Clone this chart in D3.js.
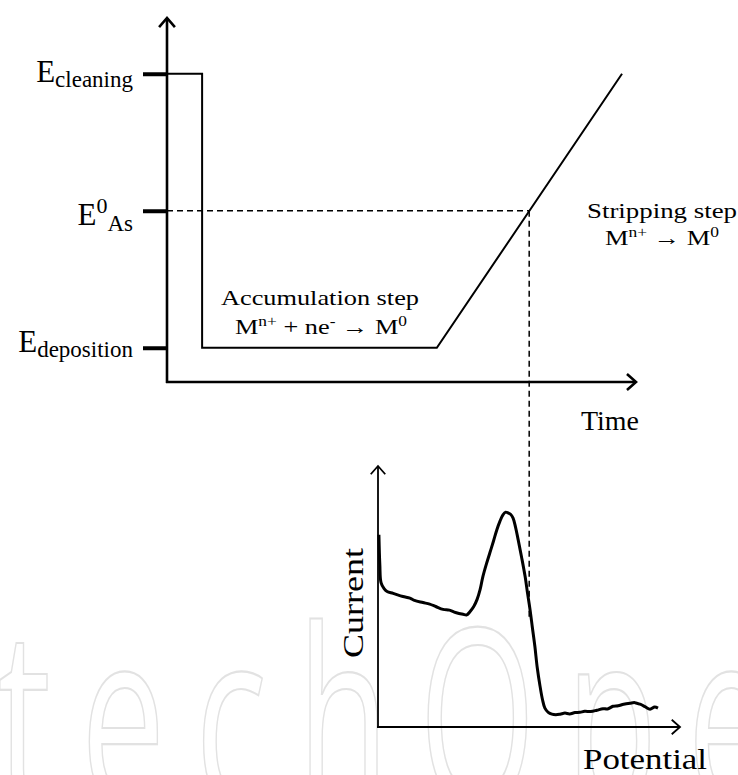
<!DOCTYPE html>
<html><head><meta charset="utf-8">
<script src="https://cdn.jsdelivr.net/npm/d3@7"></script>
<style>
body{margin:0;background:#fff}
svg{display:block}
text{font-family:"Liberation Serif","Times New Roman",serif;fill:#000}
</style>
</head><body>
<svg id="c" width="738" height="775"></svg>
<script>
// ---------- data ----------
// top chart: applied potential vs time
const potentialLevels = [1, 5, 9];            // E_deposition, E0_As, E_cleaning
const levelLabelMain = ["E", "E", "E"];
const levelLabelSup  = ["", "0", ""];
const levelLabelSub  = ["deposition", "As", "cleaning"];
const waveTime       = [0, 7.3, 7.3, 56.1, 94.6];
const wavePotential  = [9, 9, 1, 1, 9];
const crossTime = 75.3, crossPotential = 5;
// bottom chart: stripping voltammogram (current vs potential)
const sweepPotential = [0.3, 0.6, 1.0, 2.0, 3.0, 5.0, 8.2, 10.5, 12.0, 14.8, 17.0, 19.0, 21.4, 23.5, 25.5, 28.0, 29.2, 30.3, 31.5, 32.6, 33.6, 34.5, 35.6, 36.8, 38.0, 39.1, 40.1, 41.1, 42.0, 42.8, 43.6, 44.4, 45.2, 46.1, 47.2, 48.4, 49.2, 50.0, 50.8, 51.6, 52.4, 53.3, 54.1, 54.9, 56.0, 57.2, 58.5, 59.9, 61.5, 63.0, 64.8, 66.4, 68.0, 70.0, 72.0, 74.0, 75.5, 77.3, 79.0, 80.8, 82.9, 84.5, 86.2, 87.8, 89.5, 91.0, 92.1];
const sweepCurrent   = [73.4, 62.0, 55.1, 52.8, 51.7, 51.0, 49.8, 49.2, 48.3, 47.5, 46.9, 46.0, 44.9, 44.6, 43.7, 43.0, 42.8, 44.1, 46.0, 48.7, 52.5, 57.4, 62.0, 66.5, 71.0, 75.3, 78.5, 81.0, 82.0, 81.7, 81.2, 79.8, 76.5, 71.5, 65.0, 57.4, 51.0, 44.9, 37.8, 30.8, 22.5, 15.6, 10.5, 7.2, 5.6, 4.9, 4.7, 4.9, 5.3, 5.0, 5.5, 5.6, 6.0, 5.9, 6.4, 7.0, 6.9, 7.9, 8.1, 8.7, 9.1, 9.3, 8.7, 7.8, 6.8, 7.6, 7.2];
const dropCurrent = 42;   // where the dashed projection meets the voltammogram

// ---------- layout ----------
const svg = d3.select("#c");

// watermark
svg.append("text")
  .attr("x", -4).attr("y", 808)
  .attr("transform", "scale(0.6,1)")
  .style("font-family", "'Open Sans', sans-serif")
  .style("font-weight", 400)
  .style("font-size", "250px")
  .style("fill", "none")
  .style("stroke", "#e2e2e2")
  .style("stroke-width", 2.2)
  .style("letter-spacing", "50px")
  .text("techOpen");

// top chart scales
const xT = d3.scaleLinear().domain([0, 100]).range([167, 648]);
const yE = d3.scaleLinear().domain([0, 10]).range([382, 39.5]);
// bottom chart scales
const xP = d3.scaleLinear().domain([0, 100]).range([378, 682]);
const yC = d3.scaleLinear().domain([0, 100]).range([727, 465]);

// ---------- top chart ----------
const gTop = svg.append("g");

const yAxis = d3.axisLeft(yE).tickValues(potentialLevels).tickSize(24).tickFormat("");
const ya = gTop.append("g").attr("transform", `translate(${xT(0)},0)`).call(yAxis);
ya.select(".domain").remove();
ya.selectAll(".tick line").attr("stroke", "#000").attr("stroke-width", 4);

function arrowAxis(g, x1, y1, x2, y2, w, head) {
  g.append("line").attr("x1", x1).attr("y1", y1).attr("x2", x2).attr("y2", y2)
    .attr("stroke", "#000").attr("stroke-width", w);
  const ang = Math.atan2(y2 - y1, x2 - x1);
  const a1 = ang + Math.PI - 0.72, a2 = ang + Math.PI + 0.72;
  g.append("path")
    .attr("d", `M${x2 + head * Math.cos(a1)},${y2 + head * Math.sin(a1)}L${x2},${y2}L${x2 + head * Math.cos(a2)},${y2 + head * Math.sin(a2)}`)
    .attr("fill", "none").attr("stroke", "#000").attr("stroke-width", w);
}
arrowAxis(gTop, xT(0), yE(0) + 1, xT(0), 18, 2.6, 12);
arrowAxis(gTop, xT(0) - 1, yE(0), 636, yE(0), 2.6, 12);

const wave = waveTime.map((t, i) => [t, wavePotential[i]]);
gTop.append("path").datum(wave)
  .attr("d", d3.line().x(d => xT(d[0])).y(d => yE(d[1])))
  .attr("fill", "none").attr("stroke", "#000").attr("stroke-width", 2);

gTop.append("line")
  .attr("x1", xT(0)).attr("y1", yE(crossPotential)).attr("x2", xT(crossTime)).attr("y2", yE(crossPotential))
  .attr("stroke", "#000").attr("stroke-width", 1.5).attr("stroke-dasharray", "6,4");
gTop.append("line")
  .attr("x1", xT(crossTime)).attr("y1", yE(crossPotential)).attr("x2", xT(crossTime)).attr("y2", yC(dropCurrent))
  .attr("stroke", "#000").attr("stroke-width", 1.5).attr("stroke-dasharray", "6,4");

const labelDy = [4, 14, 8];
potentialLevels.forEach((v, i) => {
  const t = gTop.append("text").attr("x", 133).attr("y", yE(v) + labelDy[i]).attr("text-anchor", "end").style("font-size", "31px");
  t.append("tspan").text(levelLabelMain[i]);
  if (levelLabelSup[i]) t.append("tspan").attr("dy", -12).style("font-size", "22px").text(levelLabelSup[i]);
  t.append("tspan").attr("dy", levelLabelSup[i] ? 18 : 5).style("font-size", "23px").text(levelLabelSub[i]);
});

function annot(x, y, w, parts, fs) {
  const t = svg.append("text").attr("x", x).attr("y", y).attr("text-anchor", "middle")
    .style("font-size", fs + "px");
  if (w) t.attr("textLength", w).attr("lengthAdjust", "spacingAndGlyphs");
  let cur = 0;
  parts.forEach(p => {
    const s = t.append("tspan").text(p.t);
    const want = p.sup ? -8 : 0;
    if (want !== cur) { s.attr("dy", want - cur); cur = want; }
    if (p.sup) s.style("font-size", (fs * 0.66) + "px");
  });
  return t;
}
annot(320, 305, 198, [{t: "Accumulation step"}], 22);
annot(321, 334, 172, [{t: "M"}, {t: "n+", sup: true}, {t: " + ne"}, {t: "-", sup: true}, {t: " \u2192 M"}, {t: "0", sup: true}], 22);
annot(662, 218, 150, [{t: "Stripping step"}], 22);
annot(662, 245, 114, [{t: "M"}, {t: "n+", sup: true}, {t: " \u2192 M"}, {t: "0", sup: true}], 22);

svg.append("text").attr("x", 610).attr("y", 430).attr("text-anchor", "middle")
  .attr("textLength", 58).attr("lengthAdjust", "spacingAndGlyphs")
  .style("font-size", "28px").text("Time");

// ---------- bottom chart ----------
const gBot = svg.append("g");
arrowAxis(gBot, xP(0), yC(0) + 1, xP(0), 466, 1.8, 11);
arrowAxis(gBot, xP(0) - 1, yC(0), 680, yC(0), 1.8, 11);

const sweep = sweepPotential.map((p, i) => [p, sweepCurrent[i]]);
gBot.append("path").datum(sweep)
  .attr("d", d3.line().x(d => xP(d[0])).y(d => yC(d[1])).curve(d3.curveCatmullRom))
  .attr("fill", "none").attr("stroke", "#000").attr("stroke-width", 3).attr("stroke-linejoin", "round");

gBot.append("text").attr("transform", `translate(363,603) rotate(-90)`).attr("text-anchor", "middle")
  .attr("textLength", 110).attr("lengthAdjust", "spacingAndGlyphs")
  .style("font-size", "30px").text("Current");
gBot.append("text").attr("x", 645).attr("y", 769).attr("text-anchor", "middle")
  .attr("textLength", 124).attr("lengthAdjust", "spacingAndGlyphs")
  .style("font-size", "30px").text("Potential");
</script>
</body></html>
